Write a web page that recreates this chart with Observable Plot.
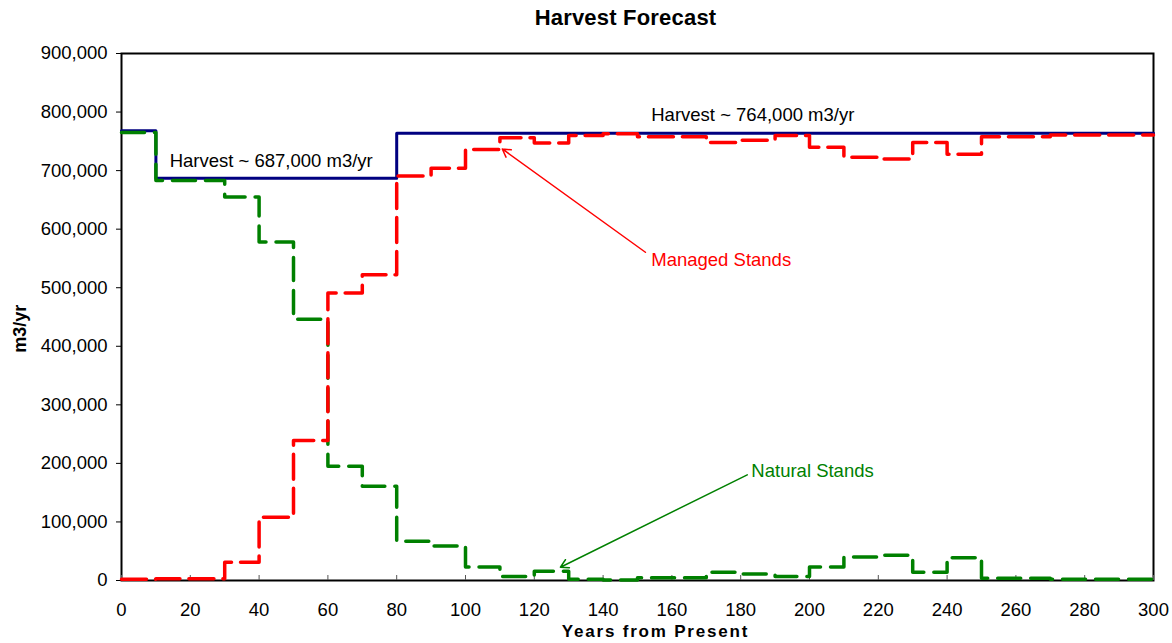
<!DOCTYPE html>
<html>
<head>
<meta charset="utf-8">
<script src="https://cdn.jsdelivr.net/npm/d3@7"></script>
<script src="https://cdn.jsdelivr.net/npm/@observablehq/plot@0.6"></script>
<style>
  body { margin: 0; background: #fff; overflow: hidden; font-family: "Liberation Sans", Arial, sans-serif; }
  #title { position: relative; height: 30px; }
  #title span {
    position: absolute; left: 625.5px; top: 7px; transform: translateX(-50%);
    font-weight: bold; font-size: 22px; line-height: 22px; white-space: nowrap; letter-spacing: 0.2px; color: #000;
  }
</style>
</head>
<body>
<div id="title"><span>Harvest Forecast</span></div>
<div id="chart"></div>
<script>
// Start year of each 10-year planning period
const periodStart = [0, 10, 20, 30, 40, 50, 60, 70, 80, 90, 100, 110, 120, 130, 140,
                     150, 160, 170, 180, 190, 200, 210, 220, 230, 240, 250, 260, 270, 280, 290];
const horizonEnd = 300;

// Total harvest (m3/yr) per period
const totalHarvest = [768000, 687000, 687000, 687000, 687000, 687000, 687000, 687000,
                      764000, 764000, 764000, 764000, 764000, 764000, 764000, 764000,
                      764000, 764000, 764000, 764000, 764000, 764000, 764000, 764000,
                      764000, 764000, 764000, 764000, 764000, 764000];

// Harvest from natural stands (m3/yr)
const naturalStands = [765000, 683000, 683000, 655000, 578000, 446000, 195000, 161000,
                       67000, 59000, 23000, 7000, 16000, 2000, 1000, 4500, 4500, 14000,
                       11000, 7000, 23000, 40000, 43000, 14000, 39000, 4000, 4000, 2000,
                       2000, 2000];

// Harvest from managed stands (m3/yr)
const managedStands = [2000, 3000, 3000, 31000, 108000, 239000, 491000, 522000,
                       691000, 704000, 736000, 756000, 747000, 760000, 763000, 758000,
                       758000, 748000, 752000, 760000, 740000, 723000, 720000, 748000,
                       728000, 758000, 758000, 761000, 761000, 761000];

// Axis ticks
const xTicks = [0, 20, 40, 60, 80, 100, 120, 140, 160, 180, 200, 220, 240, 260, 280, 300];
const yTicks = [0, 100000, 200000, 300000, 400000, 500000, 600000, 700000, 800000, 900000];

// Annotations, anchored in data units (year, m3/yr)
const harvestNotes = [
  {year: 14.0, value: 717000, text: "Harvest ~ 687,000 m3/yr"},
  {year: 154.0, value: 794000, text: "Harvest ~ 764,000 m3/yr"}
];
const managedNote = [{year: 154.0, value: 548000, text: "Managed Stands"}];
const naturalNote = [{year: 183.1, value: 186500, text: "Natural Stands"}];
const managedArrow = [{x1: 152.3, y1: 560600, x2: 110.7, y2: 737000}];
const naturalArrow = [{x1: 181.9, y1: 180500, x2: 127.6, y2: 22700}];

// Axis titles
const yTitle = [{value: 430000, text: "m3/yr"}];
const xTitle = "Years from Present";

// Step series: each period's value holds until the next period starts
function stepRows(values) {
  const rows = periodStart.map((year, i) => ({year, value: values[i]}));
  rows.push({year: horizonEnd, value: values[values.length - 1]});
  return rows;
}

const W = 1172, H = 613, mt = 23, mb = 63, ml = 121, mr = 19;
const plotH = H - mt - mb;
const font = "'Liberation Sans', Arial, sans-serif";

const chart = Plot.plot({
  width: W,
  height: H,
  marginTop: mt,
  marginBottom: mb,
  marginLeft: ml,
  marginRight: mr,
  style: {fontFamily: font, fontSize: "18.5px", color: "#000", background: "#fff", overflow: "visible"},
  x: {domain: [0, horizonEnd]},
  y: {domain: [0, 900000]},
  marks: [
    Plot.frame({stroke: "#000", strokeWidth: 2}),
    Plot.ruleX(xTicks, {x: d => d, insetTop: plotH - 5, stroke: "#555", strokeWidth: 1}),
    Plot.axisY({ticks: yTicks, tickFormat: d3.format(","), tickSize: 5, tickPadding: 9, label: null}),
    Plot.axisX({ticks: xTicks, tickSize: 0, tickPadding: 22, label: null}),
    Plot.line(stepRows(totalHarvest), {x: "year", y: "value", curve: "step-after",
      stroke: "#000080", strokeWidth: 3}),
    Plot.line(stepRows(naturalStands), {x: "year", y: "value", curve: "step-after",
      stroke: "#008000", strokeWidth: 3.5, strokeDasharray: "23,10"}),
    Plot.line(stepRows(managedStands), {x: "year", y: "value", curve: "step-after",
      stroke: "#ff0000", strokeWidth: 3.5, strokeDasharray: "25,9"}),
    Plot.arrow(managedArrow, {x1: "x1", y1: "y1", x2: "x2", y2: "y2",
      stroke: "#ff0000", strokeWidth: 1.5, headLength: 9}),
    Plot.arrow(naturalArrow, {x1: "x1", y1: "y1", x2: "x2", y2: "y2",
      stroke: "#008000", strokeWidth: 1.5, headLength: 9}),
    Plot.text(harvestNotes, {x: "year", y: "value", text: "text", textAnchor: "start", fill: "#000"}),
    Plot.text(managedNote, {x: "year", y: "value", text: "text", textAnchor: "start", fill: "#ff0000"}),
    Plot.text(naturalNote, {x: "year", y: "value", text: "text", textAnchor: "start", fill: "#008000"}),
    Plot.text(yTitle, {y: "value", text: "text", frameAnchor: "left", dx: -101, rotate: -90,
      textAnchor: "middle", lineAnchor: "middle", fontWeight: "bold", fontSize: 18}),
    Plot.text([xTitle], {frameAnchor: "bottom", dx: 18, dy: 56,
      fontWeight: "bold", fontSize: 17, text: d => d})
  ]
});

// Spread the letters of the x-axis title
chart.querySelectorAll("text").forEach(t => {
  if (t.textContent === xTitle) t.style.letterSpacing = "1.8px";
});

document.getElementById("chart").appendChild(chart);
</script>
</body>
</html>
